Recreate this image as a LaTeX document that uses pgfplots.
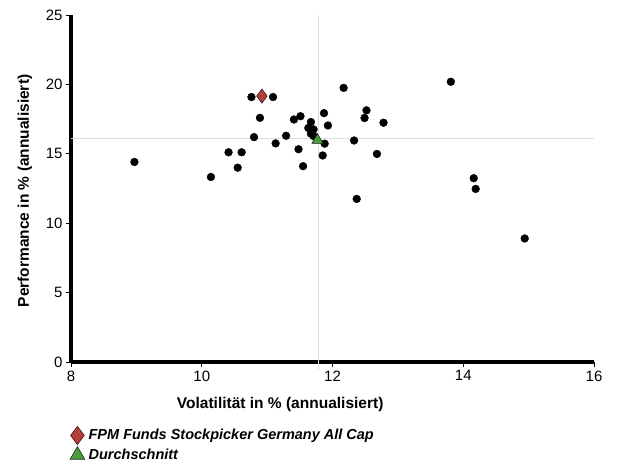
\documentclass[border=0pt]{standalone}
\usepackage{pgfplots}
\pgfplotsset{compat=1.18}
\usepackage{fontspec}
\setmainfont{Liberation Sans}
\definecolor{fpmred}{HTML}{B5403A}
\definecolor{avggreen}{HTML}{4E9A3E}
\definecolor{refgray}{HTML}{DDDDDD}

\begin{document}
\begin{tikzpicture}
\useasboundingbox (0,0) rectangle (617pt,466pt);
\begin{axis}[
  at={(71pt,104pt)}, anchor=south west,
  scale only axis, width=523pt, height=347pt,
  xmin=8, xmax=16, ymin=0, ymax=25,
  xtick={8,10,...,16}, ytick={0,5,...,25},
  axis x line*=bottom, axis y line*=left,
  x axis line style={line width=3.5pt, -},
  y axis line style={line width=3.5pt, -},
  every outer x axis line/.append style={line width=3.5pt, -},
  every outer y axis line/.append style={line width=3.5pt, -},
  tick align=outside, major tick length=5pt,
  tick style={black, line width=1pt},
  /pgf/number format/assume math mode=true,
  ticklabel style={font=\fontsize{15}{18}\selectfont},
  xlabel={Volatilität in \% (annualisiert)},
  ylabel={Performance in \% (annualisiert)},
  label style={font=\bfseries\fontsize{15.5}{18}\selectfont},
  xlabel style={at={(axis description cs:0.40,-0.121)}, anchor=center},
  ylabel style={at={(axis description cs:-0.088,0.493)}, anchor=center},
  clip=false,
  legend style={at={(axis description cs:-0.004,-0.182)}, anchor=north west,
    draw=none, fill=none, row sep=2pt, inner sep=1pt,
    font=\bfseries\itshape\fontsize{14.5}{17}\selectfont},
  legend cell align=left,
  legend image code/.code={
    \path (0pt,0pt) (15pt,0pt);
    \draw[#1, every mark/.append style={scale=1.3}] plot coordinates {(6pt,0pt)};
  },
]
% reference lines at the average
\addplot[refgray, line width=1pt, forget plot] coordinates {(11.79,-0.6) (11.79,25)};
\addplot[refgray, line width=1pt, forget plot] coordinates {(8,16.09) (16,16.09)};

% peer funds
\addplot[only marks, mark=*, mark size=3.9pt, black, forget plot] coordinates {
  (8.97,14.41) (10.14,13.33) (10.41,15.11) (10.55,14.00) (10.61,15.11)
  (10.76,19.09) (11.09,19.09) (10.89,17.59) (10.80,16.20) (11.13,15.75)
  (11.29,16.30) (11.41,17.47) (11.51,17.71) (11.48,15.33) (11.55,14.11)
  (11.67,17.29) (11.63,16.86) (11.71,16.76) (11.67,16.45) (11.71,16.28)
  (11.87,17.93) (11.93,17.04) (11.88,15.73) (11.85,14.88) (12.17,19.75)
  (12.52,18.13) (12.49,17.58) (12.78,17.24) (12.33,15.96) (12.68,14.99)
  (13.81,20.19) (14.16,13.24) (14.19,12.47) (12.37,11.75) (14.94,8.90)
};

\addplot[only marks, mark=diamond*, mark size=7pt,
  mark options={fill=fpmred, draw=black!70!fpmred, line width=0.6pt}]
  coordinates {(10.92,19.16)};
\addlegendentry{FPM Funds Stockpicker Germany All Cap}

\addplot[only marks, mark=triangle*, mark size=6.5pt,
  mark options={fill=avggreen, draw=black!70!avggreen, line width=0.6pt}]
  coordinates {(11.77,15.98)};
\addlegendentry{Durchschnitt}
\end{axis}
\end{tikzpicture}
\end{document}
